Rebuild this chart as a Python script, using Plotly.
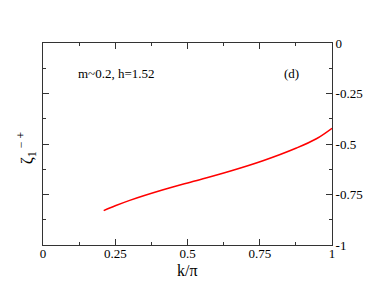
import plotly.graph_objects as go

k_vals = [0.21, 0.25, 0.30, 0.41, 0.525, 0.646, 0.761, 0.877, 0.946, 1.0]
zeta_vals = [-0.83, -0.806, -0.779, -0.729, -0.683, -0.635, -0.583, -0.520, -0.474, -0.422]

x_ticks = [0, 0.25, 0.5, 0.75, 1]
x_ticktext = ["0", "0.25", "0.5", "0.75", "1"]
y_ticks = [0, -0.25, -0.5, -0.75, -1]
y_ticktext = ["0", "-0.25", "-0.5", "-0.75", "-1"]

font_family = "Liberation Serif"

fig = go.Figure()
fig.add_trace(go.Scatter(x=k_vals, y=zeta_vals, mode="lines",
                         line=dict(color="#ff0000", width=1.5, shape="spline", smoothing=1),
                         showlegend=False))

axis_common = dict(
    showgrid=False, zeroline=False, showline=True, linecolor="#333333", linewidth=1,
    ticks="inside", ticklen=6, tickcolor="#333333", tickwidth=1, mirror="ticks",
    tickfont=dict(family=font_family, size=13, color="#000000"), automargin=False,
)

fig.update_layout(
    width=374, height=289,
    margin=dict(l=43, r=42, t=43, b=44),
    paper_bgcolor="white", plot_bgcolor="white",
    font=dict(family=font_family, color="#000000"),
    xaxis=dict(range=[0, 1], tickvals=x_ticks, ticktext=x_ticktext, ticklabelstandoff=-4,
               minor=dict(ticks="inside", dtick=0.125, tick0=0, ticklen=3, tickcolor="#333333"),
               **axis_common),
    yaxis=dict(range=[-1, 0], side="right", tickvals=y_ticks, ticktext=y_ticktext,
               minor=dict(ticks="inside", dtick=0.125, tick0=0, ticklen=3, tickcolor="#333333"),
               **axis_common),
    annotations=[
        dict(text="m~0.2, h=1.52", x=0.115, y=-0.15, xref="x", yref="y",
             xanchor="left", yanchor="middle", showarrow=False,
             font=dict(family=font_family, size=13)),
        dict(text="(d)", x=0.86, y=-0.15, xref="x", yref="y",
             xanchor="center", yanchor="middle", showarrow=False,
             font=dict(family=font_family, size=13)),
        dict(text="k/π", x=0.5, y=0, xref="paper", yref="paper",
             xanchor="center", yanchor="middle", yshift=-25, showarrow=False,
             font=dict(family=font_family, size=16)),
        dict(text="ζ<sub>1</sub><sup> − +</sup>", x=-0.058, y=-0.5, xref="paper", yref="y",
             xanchor="center", yanchor="middle", showarrow=False, textangle=-90,
             yshift=-4, font=dict(family=font_family, size=17)),
    ],
)

fig.write_html("out.html", config={"displayModeBar": False},
               post_script="document.body.style.margin='0';document.body.style.padding='0';")
